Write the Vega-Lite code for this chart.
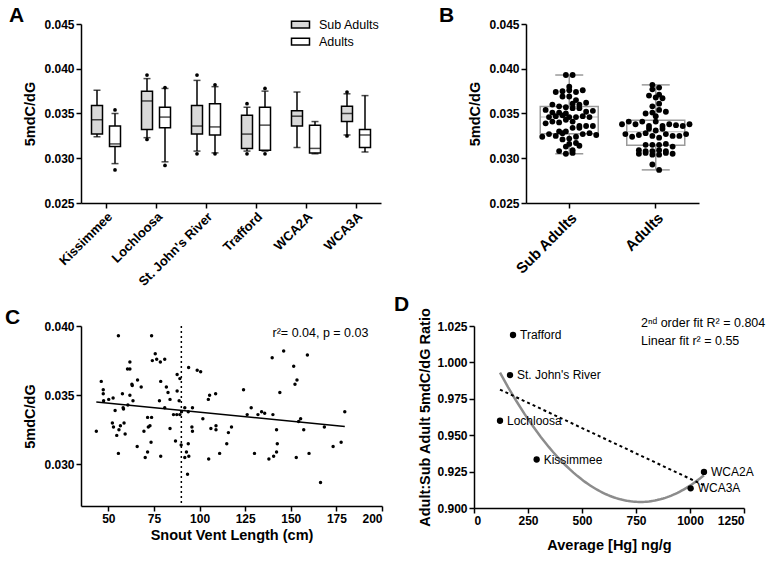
{
 "$schema": "https://vega.github.io/schema/vega-lite/v6.json",
 "background": "white",
 "padding": {"left": 5, "top": 5, "right": 5, "bottom": 5},
 "datasets": {
  "boxes": [
   {"site":"Kissimmee","group":"Sub Adults","lo":0.0324,"q1":0.0327,"med":0.0343,"q3":0.0359,"hi":0.0376},
   {"site":"Kissimmee","group":"Adults","lo":0.0294,"q1":0.0313,"med":0.0316,"q3":0.0336,"hi":0.0350},
   {"site":"Lochloosa","group":"Sub Adults","lo":0.0323,"q1":0.0332,"med":0.0364,"q3":0.0375,"hi":0.0389},
   {"site":"Lochloosa","group":"Adults","lo":0.0296,"q1":0.0334,"med":0.0346,"q3":0.0357,"hi":0.0378},
   {"site":"St. John's River","group":"Sub Adults","lo":0.0308,"q1":0.0327,"med":0.0336,"q3":0.0359,"hi":0.0387},
   {"site":"St. John's River","group":"Adults","lo":0.0306,"q1":0.0326,"med":0.0335,"q3":0.0361,"hi":0.0380},
   {"site":"Trafford","group":"Sub Adults","lo":0.0308,"q1":0.0311,"med":0.0327,"q3":0.0348,"hi":0.0357},
   {"site":"Trafford","group":"Adults","lo":0.0308,"q1":0.0309,"med":0.0337,"q3":0.0357,"hi":0.0375},
   {"site":"WCA2A","group":"Sub Adults","lo":0.0312,"q1":0.0336,"med":0.0347,"q3":0.0353,"hi":0.0374},
   {"site":"WCA2A","group":"Adults","lo":0.0305,"q1":0.0306,"med":0.0311,"q3":0.0337,"hi":0.0341},
   {"site":"WCA3A","group":"Sub Adults","lo":0.0326,"q1":0.0341,"med":0.0350,"q3":0.0358,"hi":0.0372},
   {"site":"WCA3A","group":"Adults","lo":0.0307,"q1":0.0312,"med":0.0326,"q3":0.0332,"hi":0.0370}
  ],
  "boxdots": [
   {"site":"Kissimmee","group":"Adults","value":0.0287},
   {"site":"Kissimmee","group":"Adults","value":0.0354},
   {"site":"Lochloosa","group":"Sub Adults","value":0.0393},
   {"site":"Lochloosa","group":"Sub Adults","value":0.0321},
   {"site":"Lochloosa","group":"Adults","value":0.0292},
   {"site":"Lochloosa","group":"Adults","value":0.0379},
   {"site":"St. John's River","group":"Sub Adults","value":0.0393},
   {"site":"St. John's River","group":"Sub Adults","value":0.0305},
   {"site":"St. John's River","group":"Adults","value":0.0382},
   {"site":"St. John's River","group":"Adults","value":0.0305},
   {"site":"Trafford","group":"Sub Adults","value":0.0361},
   {"site":"Trafford","group":"Sub Adults","value":0.0305},
   {"site":"Trafford","group":"Adults","value":0.0378},
   {"site":"Trafford","group":"Adults","value":0.0305},
   {"site":"WCA3A","group":"Sub Adults","value":0.0374},
   {"site":"WCA3A","group":"Sub Adults","value":0.0325}
  ],
  "svl": [
   {"svl":55.5,"mdc":0.0393},{"svl":73.7,"mdc":0.0393},{"svl":75.7,"mdc":0.0380},{"svl":74.1,"mdc":0.0375},
   {"svl":76.5,"mdc":0.0376},{"svl":78.5,"mdc":0.0374},{"svl":80.9,"mdc":0.0376},{"svl":61.8,"mdc":0.0374},
   {"svl":60.5,"mdc":0.0369},{"svl":61.8,"mdc":0.0369},{"svl":46.1,"mdc":0.0360},{"svl":47.2,"mdc":0.0354},
   {"svl":47.2,"mdc":0.0351},{"svl":47.4,"mdc":0.0346},{"svl":50.2,"mdc":0.0347},{"svl":52.6,"mdc":0.0348},
   {"svl":62.9,"mdc":0.0358},{"svl":63.1,"mdc":0.0357},{"svl":66.0,"mdc":0.0361},{"svl":68.0,"mdc":0.0356},
   {"svl":57.7,"mdc":0.0351},{"svl":61.8,"mdc":0.0350},{"svl":63.5,"mdc":0.0346},{"svl":78.7,"mdc":0.0360},
   {"svl":81.8,"mdc":0.0356},{"svl":82.7,"mdc":0.0352},{"svl":78.0,"mdc":0.0346},{"svl":83.8,"mdc":0.0347},
   {"svl":87.7,"mdc":0.0365},{"svl":89.2,"mdc":0.0362},{"svl":94.0,"mdc":0.0370},{"svl":98.7,"mdc":0.0368},
   {"svl":100.6,"mdc":0.0367},{"svl":87.7,"mdc":0.0353},{"svl":88.8,"mdc":0.0346},{"svl":60.7,"mdc":0.0343},
   {"svl":58.1,"mdc":0.0341},{"svl":58.3,"mdc":0.0340},{"svl":53.7,"mdc":0.0339},{"svl":80.9,"mdc":0.0341},
   {"svl":85.7,"mdc":0.0336},{"svl":87.5,"mdc":0.0336},{"svl":89.2,"mdc":0.0336},{"svl":90.1,"mdc":0.0338},
   {"svl":91.9,"mdc":0.0341},{"svl":93.8,"mdc":0.0338},{"svl":96.1,"mdc":0.0341},{"svl":101.8,"mdc":0.0333},
   {"svl":71.5,"mdc":0.0334},{"svl":73.7,"mdc":0.0334},{"svl":52.2,"mdc":0.0330},{"svl":52.8,"mdc":0.0327},
   {"svl":56.6,"mdc":0.0328},{"svl":58.6,"mdc":0.0330},{"svl":55.8,"mdc":0.0325},{"svl":54.6,"mdc":0.0321},
   {"svl":59.2,"mdc":0.0322},{"svl":43.4,"mdc":0.0324},{"svl":69.5,"mdc":0.0324},{"svl":71.9,"mdc":0.0327},
   {"svl":72.8,"mdc":0.0328},{"svl":83.8,"mdc":0.0326},{"svl":95.8,"mdc":0.0327},{"svl":96.1,"mdc":0.0324},
   {"svl":106.2,"mdc":0.0326},{"svl":109.0,"mdc":0.0328},{"svl":109.0,"mdc":0.0325},{"svl":104.8,"mdc":0.0347},
   {"svl":105.5,"mdc":0.0350},{"svl":108.8,"mdc":0.0351},{"svl":65.8,"mdc":0.0313},{"svl":73.4,"mdc":0.0316},
   {"svl":71.5,"mdc":0.0309},{"svl":70.2,"mdc":0.0305},{"svl":55.5,"mdc":0.0308},{"svl":78.7,"mdc":0.0306},
   {"svl":86.8,"mdc":0.0317},{"svl":89.9,"mdc":0.0314},{"svl":93.8,"mdc":0.0315},{"svl":92.8,"mdc":0.0309},
   {"svl":91.9,"mdc":0.0305},{"svl":94.1,"mdc":0.0306},{"svl":93.4,"mdc":0.0293},{"svl":105.0,"mdc":0.0304},
   {"svl":111.0,"mdc":0.0308},{"svl":114.9,"mdc":0.0315},{"svl":115.8,"mdc":0.0323},{"svl":117.5,"mdc":0.0327},
   {"svl":146.1,"mdc":0.0382},{"svl":139.8,"mdc":0.0377},{"svl":159.1,"mdc":0.0379},{"svl":151.6,"mdc":0.0371},
   {"svl":153.4,"mdc":0.0361},{"svl":152.3,"mdc":0.0358},{"svl":124.1,"mdc":0.0354},{"svl":144.0,"mdc":0.0352},
   {"svl":128.3,"mdc":0.0341},{"svl":126.1,"mdc":0.0336},{"svl":132.0,"mdc":0.0336},{"svl":134.0,"mdc":0.0338},
   {"svl":135.7,"mdc":0.0337},{"svl":140.2,"mdc":0.0336},{"svl":155.4,"mdc":0.0333},{"svl":154.3,"mdc":0.0331},
   {"svl":142.2,"mdc":0.0325},{"svl":157.1,"mdc":0.0325},{"svl":168.4,"mdc":0.0327},{"svl":179.6,"mdc":0.0338},
   {"svl":142.6,"mdc":0.0315},{"svl":142.2,"mdc":0.0309},{"svl":140.6,"mdc":0.0306},{"svl":138.0,"mdc":0.0304},
   {"svl":130.1,"mdc":0.0308},{"svl":153.0,"mdc":0.0305},{"svl":160.0,"mdc":0.0308},{"svl":173.2,"mdc":0.0313},
   {"svl":177.6,"mdc":0.0316},{"svl":166.3,"mdc":0.0287}
  ],
  "hg": [
   {"site":"Trafford","hg":180.6,"ratio":1.0188},
   {"site":"St. John's River","hg":166.7,"ratio":0.9913},
   {"site":"Lochloosa","hg":120.4,"ratio":0.9599},
   {"site":"Kissimmee","hg":290,"ratio":0.9333},
   {"site":"WCA2A","hg":1064.8,"ratio":0.9248},
   {"site":"WCA3A","hg":1003,"ratio":0.9135}
  ]
 },
 "vconcat": [
  {
   "hconcat": [
    {
     "width": 300, "height": 179,
     "title": {"text": "A", "dx": -72},
     "encoding": {
      "x": {"field": "site", "type": "nominal", "sort": ["Kissimmee","Lochloosa","St. John's River","Trafford","WCA2A","WCA3A"], "scale": {"paddingInner": 0.28, "paddingOuter": 0.14}, "axis": {"title": null, "labelAngle": -45, "labelFontSize": 13}},
      "xOffset": {"field": "group", "type": "nominal", "sort": ["Sub Adults","Adults"], "scale": {"paddingInner": 0, "paddingOuter": 0}}
     },
     "layer": [
      {
       "data": {"name": "boxes"},
       "mark": {"type": "rule", "color": "black", "strokeWidth": 1.5},
       "encoding": {
        "y": {"field": "lo", "type": "quantitative", "title": "5mdC/dG", "scale": {"domain": [0.025, 0.045], "nice": false, "zero": false}, "axis": {"values": [0.025,0.03,0.035,0.04,0.045], "format": ".3f", "titlePadding": 6}},
        "y2": {"field": "hi"}
       }
      },
      {
       "data": {"name": "boxes"},
       "mark": {"type": "tick", "color": "black", "thickness": 1.5, "size": 7, "orient": "horizontal"},
       "encoding": {
        "y": {"field": "lo", "type": "quantitative", "title": "5mdC/dG", "axis": {"values": [0.025,0.03,0.035,0.04,0.045], "format": ".3f", "titlePadding": 6}}
       }
      },
      {
       "data": {"name": "boxes"},
       "mark": {"type": "tick", "color": "black", "thickness": 1.5, "size": 7, "orient": "horizontal"},
       "encoding": {
        "y": {"field": "hi", "type": "quantitative", "title": "5mdC/dG", "axis": {"values": [0.025,0.03,0.035,0.04,0.045], "format": ".3f", "titlePadding": 6}}
       }
      },
      {
       "data": {"name": "boxes"},
       "mark": {"type": "bar", "stroke": "black", "strokeWidth": 1.5, "size": 11},
       "encoding": {
        "y": {"field": "q1", "type": "quantitative", "title": "5mdC/dG", "axis": {"values": [0.025,0.03,0.035,0.04,0.045], "format": ".3f", "titlePadding": 6}},
        "y2": {"field": "q3"},
        "fill": {"field": "group", "type": "nominal", "sort": ["Sub Adults","Adults"], "scale": {"domain": ["Sub Adults","Adults"], "range": ["#d9d9d9","#ffffff"]},
         "legend": {"title": null, "orient": "none", "legendX": 211, "legendY": -8, "symbolType": "M-1.2,-0.45H1.2V0.45H-1.2Z", "symbolSize": 225, "symbolStrokeColor": "black", "symbolStrokeWidth": 1.5, "labelFontSize": 12.5, "labelColor": "black", "labelOffset": 10, "rowPadding": 2}}
       }
      },
      {
       "data": {"name": "boxes"},
       "mark": {"type": "tick", "color": "black", "thickness": 1.5, "size": 11, "orient": "horizontal"},
       "encoding": {
        "y": {"field": "med", "type": "quantitative", "title": "5mdC/dG", "axis": {"values": [0.025,0.03,0.035,0.04,0.045], "format": ".3f", "titlePadding": 6}}
       }
      },
      {
       "data": {"name": "boxdots"},
       "mark": {"type": "circle", "color": "black", "size": 14, "opacity": 1},
       "encoding": {
        "y": {"field": "value", "type": "quantitative", "title": "5mdC/dG", "axis": {"values": [0.025,0.03,0.035,0.04,0.045], "format": ".3f", "titlePadding": 6}}
       }
      }
     ]
    },
    {
     "width": 173, "height": 179,
     "title": {"text": "B", "dx": -87},
     "data": {"name": "svl"},
     "transform": [{"calculate": "datum.svl < 90 ? 'Sub Adults' : 'Adults'", "as": "group"}],
     "layer": [
      {
       "mark": {"type": "boxplot", "extent": "min-max", "size": 58,
        "box": {"fill": "white", "fillOpacity": 0, "stroke": "#9a9a9a", "strokeWidth": 1.5},
        "median": {"color": "#9a9a9a", "strokeWidth": 1.5},
        "rule": {"color": "#9a9a9a", "strokeWidth": 1.5},
        "ticks": {"color": "#9a9a9a", "size": 28, "thickness": 1.5}},
       "encoding": {
        "x": {"field": "group", "type": "nominal", "sort": ["Sub Adults","Adults"], "scale": {"paddingInner": 0.2, "paddingOuter": 0.1}, "axis": {"title": null, "labelAngle": -45, "labelFontSize": 15}},
        "y": {"field": "mdc", "type": "quantitative", "title": "5mdC/dG", "scale": {"domain": [0.025, 0.045], "nice": false, "zero": false}, "axis": {"values": [0.025,0.03,0.035,0.04,0.045], "format": ".3f", "titlePadding": 6}}
       }
      },
      {
       "transform": [
        {"calculate": "floor(datum.mdc / 0.0007)", "as": "ybin"},
        {"window": [{"op": "row_number", "as": "rk"}, {"op": "count", "as": "n"}], "groupby": ["group", "ybin"], "sort": [{"field": "svl"}], "frame": [null, null]},
        {"calculate": "(datum.group == 'Sub Adults' ? 0 : 1) + (datum.rk - (datum.n + 1) / 2) * 0.078", "as": "bx"}
       ],
       "mark": {"type": "circle", "color": "black", "size": 34, "opacity": 1},
       "encoding": {
        "x": {"field": "bx", "type": "quantitative", "scale": {"domain": [-0.5, 1.5], "nice": false, "zero": false}, "axis": null},
        "y": {"field": "mdc", "type": "quantitative", "title": "5mdC/dG", "axis": {"values": [0.025,0.03,0.035,0.04,0.045], "format": ".3f", "titlePadding": 6}}
       }
      }
     ],
     "resolve": {"scale": {"x": "independent"}}
    }
   ],
   "spacing": 58
  },
  {
   "hconcat": [
    {
     "width": 301, "height": 180,
     "title": {"text": "C", "dx": -76},
     "layer": [
      {
       "data": {"name": "svl"},
       "mark": {"type": "circle", "color": "black", "size": 12, "opacity": 1},
       "encoding": {
        "x": {"field": "svl", "type": "quantitative", "title": "Snout Vent Length (cm)", "scale": {"domain": [35, 200], "nice": false, "zero": false}, "axis": {"values": [50,75,100,125,150,175,200], "titlePadding": 4}},
        "y": {"field": "mdc", "type": "quantitative", "title": "5mdC/dG", "scale": {"domain": [0.027, 0.040], "nice": false, "zero": false}, "axis": {"values": [0.03,0.035,0.04], "format": ".3f", "titlePadding": 6}}
       }
      },
      {
       "data": {"name": "svl"},
       "transform": [{"regression": "mdc", "on": "svl"}],
       "mark": {"type": "line", "color": "black", "strokeWidth": 1.5},
       "encoding": {
        "x": {"field": "svl", "type": "quantitative", "title": "Snout Vent Length (cm)", "axis": {"values": [50,75,100,125,150,175,200], "titlePadding": 4}},
        "y": {"field": "mdc", "type": "quantitative", "title": "5mdC/dG", "axis": {"values": [0.03,0.035,0.04], "format": ".3f", "titlePadding": 6}}
       }
      },
      {
       "data": {"values": [{}]},
       "mark": {"type": "rule", "color": "black", "strokeWidth": 1.5, "strokeDash": [2, 3]},
       "encoding": {"x": {"datum": 90, "title": "Snout Vent Length (cm)", "axis": {"values": [50,75,100,125,150,175,200], "titlePadding": 4}}}
      },
      {
       "data": {"values": [{}]},
       "mark": {"type": "text", "align": "left", "baseline": "middle", "fontSize": 12.5, "color": "black"},
       "encoding": {
        "x": {"datum": 140, "title": "Snout Vent Length (cm)", "axis": {"values": [50,75,100,125,150,175,200], "titlePadding": 4}},
        "y": {"datum": 0.0395, "title": "5mdC/dG", "axis": {"values": [0.03,0.035,0.04], "format": ".3f", "titlePadding": 6}},
        "text": {"value": "r²= 0.04, p = 0.03"}
       }
      }
     ]
    },
    {
     "width": 270, "height": 182,
     "title": {"text": "D", "dx": -80},
     "layer": [
      {
       "data": {"name": "hg"},
       "transform": [{"regression": "ratio", "on": "hg", "method": "poly", "order": 2}],
       "mark": {"type": "line", "color": "#8c8c8c", "strokeWidth": 2.5},
       "encoding": {
        "x": {"field": "hg", "type": "quantitative", "title": "Average [Hg] ng/g", "scale": {"domain": [0, 1250], "nice": false}, "axis": {"values": [0,250,500,750,1000,1250], "format": "d", "titlePadding": 12}},
        "y": {"field": "ratio", "type": "quantitative", "title": "Adult:Sub Adult 5mdC/dG Ratio", "scale": {"domain": [0.9, 1.025], "nice": false, "zero": false}, "axis": {"values": [0.9,0.925,0.95,0.975,1.0,1.025], "format": ".3f", "titlePadding": 4}}
       }
      },
      {
       "data": {"name": "hg"},
       "transform": [{"regression": "ratio", "on": "hg"}],
       "mark": {"type": "line", "color": "black", "strokeWidth": 2, "strokeDash": [3, 3]},
       "encoding": {
        "x": {"field": "hg", "type": "quantitative", "title": "Average [Hg] ng/g", "axis": {"values": [0,250,500,750,1000,1250], "format": "d", "titlePadding": 12}},
        "y": {"field": "ratio", "type": "quantitative", "title": "Adult:Sub Adult 5mdC/dG Ratio", "axis": {"values": [0.9,0.925,0.95,0.975,1.0,1.025], "format": ".3f", "titlePadding": 4}}
       }
      },
      {
       "data": {"name": "hg"},
       "mark": {"type": "circle", "color": "black", "size": 40, "opacity": 1},
       "encoding": {
        "x": {"field": "hg", "type": "quantitative", "title": "Average [Hg] ng/g", "axis": {"values": [0,250,500,750,1000,1250], "format": "d", "titlePadding": 12}},
        "y": {"field": "ratio", "type": "quantitative", "title": "Adult:Sub Adult 5mdC/dG Ratio", "axis": {"values": [0.9,0.925,0.95,0.975,1.0,1.025], "format": ".3f", "titlePadding": 4}}
       }
      },
      {
       "data": {"name": "hg"},
       "mark": {"type": "text", "align": "left", "baseline": "middle", "dx": 7, "fontSize": 12, "color": "black"},
       "encoding": {
        "x": {"field": "hg", "type": "quantitative", "title": "Average [Hg] ng/g", "axis": {"values": [0,250,500,750,1000,1250], "format": "d", "titlePadding": 12}},
        "y": {"field": "ratio", "type": "quantitative", "title": "Adult:Sub Adult 5mdC/dG Ratio", "axis": {"values": [0.9,0.925,0.95,0.975,1.0,1.025], "format": ".3f", "titlePadding": 4}},
        "text": {"field": "site"}
       }
      },
      {
       "data": {"values": [{}]},
       "mark": {"type": "text", "align": "left", "baseline": "middle", "fontSize": 12.5, "color": "black"},
       "encoding": {
        "x": {"datum": 773, "title": "Average [Hg] ng/g", "axis": {"values": [0,250,500,750,1000,1250], "format": "d", "titlePadding": 12}},
        "y": {"datum": 1.027, "title": "Adult:Sub Adult 5mdC/dG Ratio", "axis": {"values": [0.9,0.925,0.95,0.975,1.0,1.025], "format": ".3f", "titlePadding": 4}},
        "text": {"value": "2ⁿᵈ order fit R² = 0.804"}
       }
      },
      {
       "data": {"values": [{}]},
       "mark": {"type": "text", "align": "left", "baseline": "middle", "fontSize": 12.5, "color": "black"},
       "encoding": {
        "x": {"datum": 773, "title": "Average [Hg] ng/g", "axis": {"values": [0,250,500,750,1000,1250], "format": "d", "titlePadding": 12}},
        "y": {"datum": 1.0149, "title": "Adult:Sub Adult 5mdC/dG Ratio", "axis": {"values": [0.9,0.925,0.95,0.975,1.0,1.025], "format": ".3f", "titlePadding": 4}},
        "text": {"value": "Linear fit r² = 0.55"}
       }
      }
     ]
    }
   ],
   "spacing": 11
  }
 ],
 "spacing": 5,
 "config": {
  "view": {"stroke": null},
  "font": "Liberation Sans",
  "axis": {"domainColor": "black", "domainWidth": 1.5, "tickColor": "black", "tickWidth": 1.5, "tickSize": 5, "labelFontSize": 12, "labelFontWeight": "bold", "labelColor": "black", "titleFontSize": 14.5, "titleFontWeight": "bold", "titleColor": "black", "grid": false, "labelFont": "Liberation Sans", "titleFont": "Liberation Sans"},
  "legend": {"labelFont": "Liberation Sans"},
  "title": {"fontSize": 21, "fontWeight": "bold", "anchor": "start", "frame": "group", "color": "black", "font": "Liberation Sans", "offset": -8}
 }
}
